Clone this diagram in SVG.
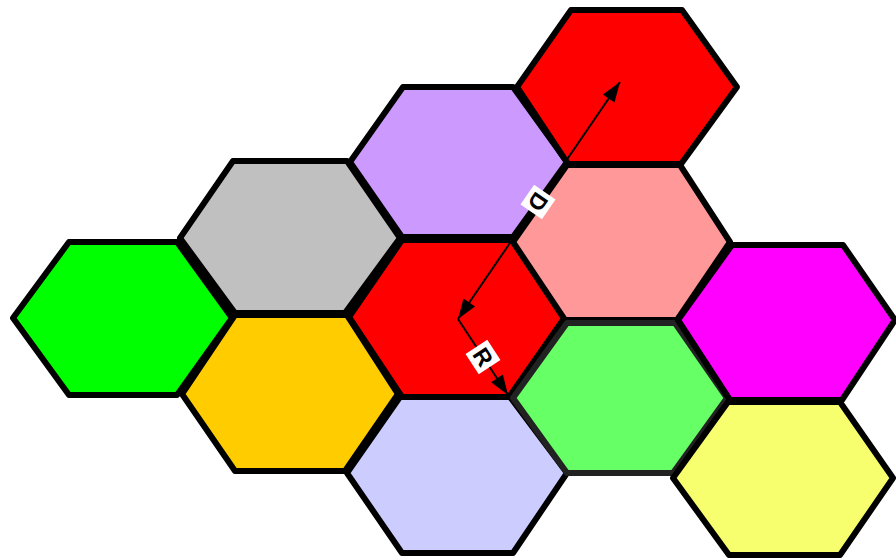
<svg xmlns="http://www.w3.org/2000/svg" width="896" height="560" viewBox="0 0 896 560">
<style>
.hex{stroke:#000;stroke-width:6;stroke-linejoin:round}
.arr{stroke:#000;stroke-width:2;fill:none}
.lbl-box{fill:#fff}
.lbl{font-family:"Liberation Sans",Arial,sans-serif;font-weight:bold;font-size:23px;fill:#000;text-anchor:middle;dominant-baseline:central}
</style>
<defs>
<marker id="ah" markerUnits="userSpaceOnUse" markerWidth="24" markerHeight="18" viewBox="-22 -9 24 18" refX="0" refY="0" orient="auto-start-reverse">
<path d="M0,0 L-20,-7 L-20,7 Z" fill="#000"/>
</marker>
</defs>
<rect width="896" height="560" fill="#fff"/>
<g id="hex-green"><polygon class="hex" fill="#00ff00" points="13,318 69,242 177,242 232,318 177,395 69,395"/></g>
<g id="hex-gray"><polygon class="hex" fill="#c0c0c0" points="180,238 233,161 347,161 400,238 345,313 235,313"/></g>
<g id="hex-orange"><polygon class="hex" fill="#ffcc00" points="182,394 235,315 347,315 398,394 345,471 235,471"/></g>
<g id="hex-lilac"><polygon class="hex" fill="#cc99ff" points="350,162 403,87 513,87 567,162 513,237 402,237"/></g>
<g id="hex-red-center"><polygon class="hex" fill="#ff0000" points="349,317 402,240 512,240 565,317 509,397 402,397"/></g>
<g id="hex-lavender"><polygon class="hex" fill="#ccccff" points="347,473 400,397 510,397 567,473 513,553 402,553"/></g>
<g id="hex-red-top"><polygon class="hex" fill="#ff0000" points="517,87 571,10 682,10 737,87 681,164 568,164"/></g>
<g id="hex-pink"><polygon class="hex" fill="#ff9999" points="513,242 567,165 680,165 730,242 677,320 565,320"/></g>
<g id="hex-lightgreen"><polygon class="hex" fill="#66ff66" style="stroke:#222" points="513,398 567,323 675,323 727,398 673,473 567,473"/></g>
<g id="hex-magenta"><polygon class="hex" fill="#ff00ff" points="678,320 732,245 843,245 895,320 842,400 730,400"/></g>
<g id="hex-yellow"><polygon class="hex" fill="#f7ff6e" points="673,478 728,402 840,402 893,478 840,555 729,555"/></g>
<g id="connectors">
<line class="arr" x1="620" y1="82" x2="458" y2="319" marker-start="url(#ah)" marker-end="url(#ah)"/>
<line class="arr" x1="458" y1="319" x2="508" y2="395" marker-end="url(#ah)"/>
<g transform="translate(538,202) rotate(124.5)">
<rect class="lbl-box" x="-12" y="-13" width="24" height="26"/>
<text class="lbl" x="0" y="0">D</text>
</g>
<g transform="translate(483,357) rotate(56.7)">
<rect class="lbl-box" x="-12" y="-13" width="24" height="26"/>
<text class="lbl" x="0" y="0">R</text>
</g>
</g>
</svg>
